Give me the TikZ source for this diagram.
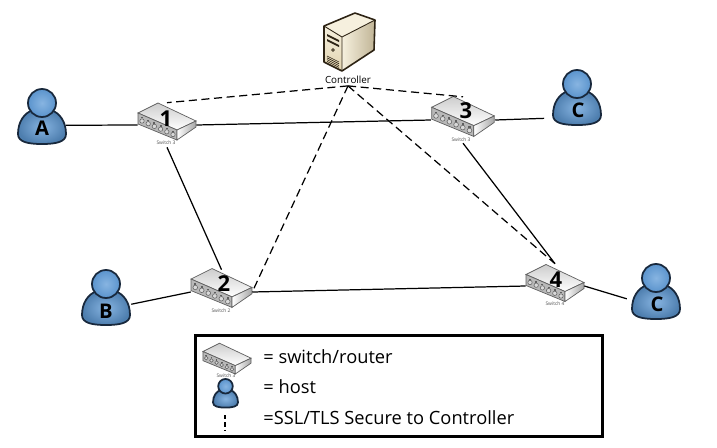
\documentclass[tikz,border=0pt]{standalone}
\usepackage{fontspec}
\usepackage{tikz}
\setsansfont{Open Sans}
\usetikzlibrary{positioning}
\definecolor{hostblue}{RGB}{91,148,205}
\definecolor{hostlight}{RGB}{135,180,225}
\definecolor{hostdark}{RGB}{24,40,60}
\definecolor{swgray}{RGB}{205,205,205}
\definecolor{swedge}{RGB}{95,95,95}
\definecolor{srvtan}{RGB}{226,212,176}
\definecolor{srvcream}{RGB}{246,240,222}
\definecolor{srvdark}{RGB}{45,35,20}
\tikzset{
  swnode/.style={minimum width=33pt, minimum height=25pt, inner sep=0pt},
  hostnode/.style={circle, minimum size=29.5pt, inner sep=0pt},
  swnum/.style={font=\sffamily\bfseries\fontsize{12.5}{12.5}\selectfont, inner sep=0pt},
  hostlbl/.style={font=\sffamily\bfseries\fontsize{11.5}{11.5}\selectfont, inner sep=0pt},
  swcap/.style={font=\sffamily\fontsize{2.8}{3}\selectfont, text=black!70, inner sep=0pt},
  legtext/.style={font=\sffamily\fontsize{10.4}{12}\selectfont, anchor=west, inner sep=0pt},
  link/.style={line width=0.7pt},
  sslink/.style={line width=0.7pt, dash pattern=on 4.6pt off 2.6pt},
  pics/switchbox/.style={code={
    \path[draw=swedge, line width=0.4pt, top color=swgray, bottom color=white] (-9,-19) -- (29,-1) -- (10,8) -- (-29,-9) -- cycle;
    \path[draw=swedge, line width=0.4pt, fill=black!28] (-29,-9) -- (10,8) -- (10,18) -- (-29,2) -- cycle;
    \path[draw=swedge, line width=0.4pt, left color=white, right color=black!35] (10,8) -- (29,-1) -- (29,5) -- (10,18) -- cycle;
    \foreach \i in {0,...,5}{
      \draw[swedge, line width=0.3pt, fill=white!85!black] (-25+6.2*\i,-1+2.7*\i) circle (2.2);
      \fill[swedge] (-26+6.2*\i,-5+2.7*\i) rectangle ++(2,1.4);
    }
  }},
  pics/hostman/.style={code={
    \path[draw=hostdark, line width=1pt, inner color=hostlight, outer color=hostblue!85!black]
      (-9,-6) .. controls (-18,-3) and (-24,6) .. (-24,18)
      .. controls (-24,26) and (-14,28) .. (0,28)
      .. controls (14,28) and (24,26) .. (24,18)
      .. controls (24,6) and (18,-3) .. (9,-6) -- cycle;
    \path[draw=hostdark, line width=1pt, inner color=hostlight, outer color=hostblue]
      (0,-13) ellipse [x radius=14, y radius=14];
  }},
  pics/serverbox/.style={code={
    \path[fill=srvcream, top color=srvcream, bottom color=srvtan] (-25,-16) -- (-7,-5) -- (-7,29) -- (-25,20) -- cycle;
    \path[fill=srvtan, left color=srvcream, right color=srvtan!85!black] (-7,-5) -- (26,-22) -- (25,8) -- (-7,29) -- cycle;
    \path[fill=srvcream] (-25,-16) -- (6,-29) -- (26,-22) -- (-7,-5) -- cycle;
    \draw[srvdark, line width=0.9pt, line join=round] (-25,-16) -- (6,-29) -- (26,-22) -- (25,8) -- (-7,29) -- (-25,20) -- cycle;
    \draw[srvdark, line width=0.5pt] (-25,-16) -- (-7,-5) -- (26,-22) (-7,-5) -- (-7,29);
    \fill[srvdark] (-22,-8) -- (-10,-2) -- (-10,0) -- (-22,-6) -- cycle;
    \fill[srvdark] (-22,-3) -- (-10,3) -- (-10,5) -- (-22,-1) -- cycle;
    \draw[srvdark, fill=srvtan, line width=0.4pt] (-16,8) circle (1.4);
    \foreach \i in {0,...,3}
      \draw[srvdark, line width=0.35pt] (-22,14+1.8*\i) -- (-10,20+1.8*\i);
  }}
}
\begin{document}
\begin{tikzpicture}[x=0.02cm, y=-0.02cm]
  \useasboundingbox (0,0) rectangle (717,447);

  \pic at (167,122) {switchbox};
  \pic[scale=1.08] at (463,117) {switchbox};
  \pic[scale=1.05] at (221.5,288.5) {switchbox};
  \pic at (555,283.5) {switchbox};
  \pic at (42,116) {hostman};
  \pic at (106,297) {hostman};
  \pic at (577,97) {hostman};
  \pic at (656,291) {hostman};
  \pic at (349,42) {serverbox};

  \node[swnode] (S1) at (167,125) {};
  \node[swnode, minimum width=36.3pt, minimum height=26pt] (S3) at (463,120) {};
  \node[swnode, minimum width=34.6pt] (S2) at (221.5,292) {};
  \node[swnode] (S4) at (555,286) {};
  \node[hostnode] (A) at (42,115) {};
  \node[hostnode] (B) at (106,297) {};
  \node[hostnode, minimum size=44.2pt] (C1) at (577,97) {};
  \node[hostnode, minimum size=34pt] (C2) at (656,291) {};
  \node[font=\sffamily\fontsize{5.6}{6}\selectfont, inner sep=1pt] (Ctrl) at (348,80) {Controller};

  \node[swnum] (N1) at (166,119) {1};
  \node[swnum] (N2) at (224,284) {2};
  \node[swnum] (N3) at (466,111) {3};
  \node[swnum] (N4) at (556,280) {4};
  \node[hostlbl] (LA) at (42,128) {A};
  \node[hostlbl] (LB) at (106,311) {B};
  \node[hostlbl] (LC1) at (578,110) {C};
  \node[hostlbl] (LC2) at (657,304) {C};
  \node[swcap] (CS1) at (166,143) {Switch 3};
  \node[swcap] (CS3) at (461,140) {Switch 3};
  \node[swcap] (CS2) at (221,311) {Switch 2};
  \node[swcap] (CS4) at (555,304) {Switch 4};

  \draw[link] (A.-23) -- (S1.west);
  \draw[link] (S1.east) -- (S3.west);
  \draw[link] (S1.south) -- (S2.north);
  \draw[link] (S3.east) -- (C1.213);
  \draw[link] (S3.south) -- (S4.north);
  \draw[link] (S2.east) -- (S4.west);
  \draw[link] (B.-16) -- (S2.west);
  \draw[link] (S4.east) -- (C2.195);
  \draw[sslink] (Ctrl.south) -- (S1.north);
  \draw[sslink] (Ctrl.south) -- (S3.north);
  \draw[sslink] (Ctrl.south) -- (S2.east);
  \draw[sslink] (Ctrl.south) -- (S4.north);

  \node[draw, line width=1.7pt, minimum width=232pt, minimum height=57.5pt, inner sep=0pt] (Legend) at (399,386) {};
  \pic[scale=0.83] at (227,359) {switchbox};
  \node[swcap] (CLeg) at (226,376) {Switch 3};
  \pic[scale=0.52] at (225.5,393) {hostman};
  \coordinate (D1) at (225,415);
  \coordinate (D2) at (225,431);
  \draw[line width=0.6pt, dash pattern=on 2.4pt off 1.8pt] (D1) -- (D2);
  \node[legtext] (T1) at (263,357) {= switch/router};
  \node[legtext] (T2) at (263,387) {= host};
  \node[legtext] (T3) at (263,418) {=SSL/TLS Secure to Controller};
\end{tikzpicture}
\end{document}
